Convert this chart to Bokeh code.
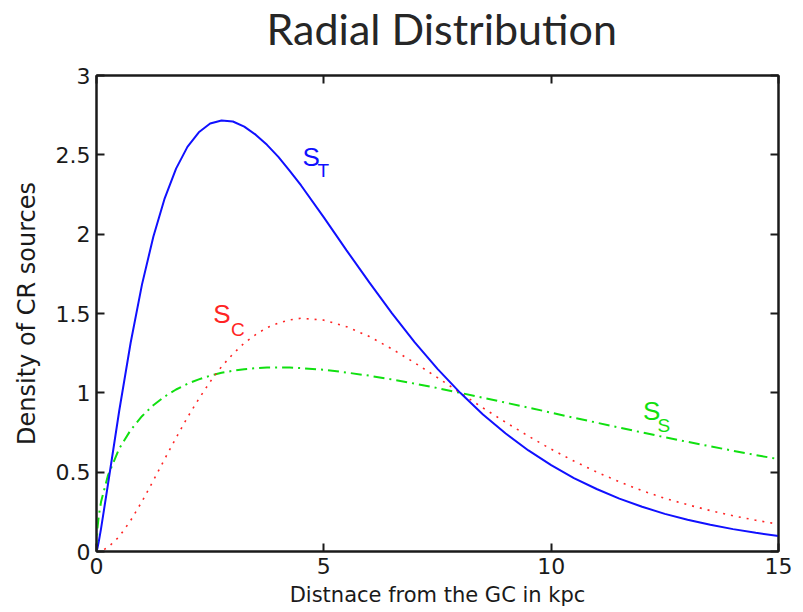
from bokeh.plotting import figure
from bokeh.models import FixedTicker, LinearAxis, Label
from bokeh.embed import file_html
from bokeh.resources import INLINE

# ---- data ----
distance_kpc = [0, 0.02, 0.05, 0.1, 0.25, 0.5, 0.75, 1, 1.25, 1.5,
                1.75, 2, 2.25, 2.5, 2.75, 3, 3.25, 3.5, 3.75, 4,
                4.25, 4.5, 5, 5.5, 6, 6.5, 7, 7.5, 8, 8.5,
                9, 9.5, 10, 10.5, 11, 11.5, 12, 12.5, 13, 13.5, 14, 14.5, 15]
density_st = [0, 0.020, 0.062, 0.144, 0.419, 0.887, 1.314, 1.682, 1.984, 2.226,
              2.413, 2.550, 2.642, 2.697, 2.716, 2.710, 2.678, 2.627, 2.563, 2.487,
              2.399, 2.307, 2.106, 1.898, 1.696, 1.501, 1.318, 1.151, 1.0, 0.864,
              0.744, 0.637, 0.544, 0.463, 0.394, 0.333, 0.282, 0.237, 0.200, 0.168,
              0.141, 0.118, 0.098]
density_sc = [0, 0.0, 0.001, 0.004, 0.025, 0.094, 0.195, 0.315, 0.447, 0.583,
              0.716, 0.845, 0.962, 1.070, 1.165, 1.245, 1.314, 1.367, 1.411, 1.440,
              1.460, 1.470, 1.458, 1.417, 1.355, 1.276, 1.189, 1.096, 1.0, 0.905,
              0.814, 0.727, 0.645, 0.570, 0.501, 0.439, 0.383, 0.335, 0.295, 0.258,
              0.225, 0.197, 0.172]
density_ss = [0, 0.145, 0.225, 0.313, 0.478, 0.649, 0.765, 0.853, 0.922, 0.977,
              1.021, 1.057, 1.085, 1.108, 1.126, 1.139, 1.149, 1.155, 1.159, 1.160,
              1.159, 1.156, 1.145, 1.128, 1.108, 1.084, 1.058, 1.030, 1.0, 0.969,
              0.938, 0.907, 0.875, 0.843, 0.812, 0.781, 0.750, 0.720, 0.691, 0.663,
              0.635, 0.608, 0.582]

x_ticks = [0, 5, 10, 15]
x_tick_labels = ["0", "5", "10", "15"]
y_ticks = [0, 0.5, 1, 1.5, 2, 2.5, 3]
y_tick_labels = ["0", "0.5", "1", "1.5", "2", "2.5", "3"]

title_text = "Radial Distribution"
x_label = "Distnace from the GC in kpc"
y_label = "Density of CR sources"

series_main = ["S", "S", "S"]
series_sub = ["T", "C", "S"]

# ---- styling ----
AX = "#1a1a1a"
BLUE = "#1010ff"
RED = "#ff2424"
GREEN = "#10e010"
TICK_FONT = "DejaVu Sans"

p = figure(width=803, height=612, x_range=(0, 15), y_range=(0, 3),
           output_backend="svg", toolbar_location=None,
           min_border_left=96, min_border_right=25,
           min_border_top=75, min_border_bottom=61)
p.background_fill_color = "white"
p.border_fill_color = "white"
p.xgrid.visible = False
p.ygrid.visible = False
p.outline_line_color = AX
p.outline_line_width = 2

p.title.text = title_text
p.title.text_font = "Lato"
p.title.text_font_size = "43px"
p.title.text_font_style = "normal"
p.title.text_color = "#262626"
p.title.align = "left"
p.title.offset = 170
p.title.standoff = 0


def style_axis(ax, ticks, labels, show_labels=True):
    ax.ticker = FixedTicker(ticks=ticks)
    ax.major_tick_in = 8
    ax.major_tick_out = 0
    ax.minor_tick_line_color = None
    ax.major_tick_line_width = 2
    ax.major_tick_line_color = AX
    ax.axis_line_width = 2
    ax.axis_line_color = AX
    ax.major_label_text_font = TICK_FONT
    ax.major_label_text_color = AX
    if show_labels:
        ax.major_label_overrides = {t: l for t, l in zip(ticks, labels)}
        ax.major_label_text_font_size = "22px"
        ax.major_label_standoff = 6
    else:
        ax.major_label_overrides = {t: "" for t in ticks}
        ax.major_label_text_font_size = "1px"
        ax.major_label_standoff = 0


xa = p.xaxis[0]
style_axis(xa, x_ticks, x_tick_labels)
xa.axis_label = x_label
xa.axis_label_text_font = TICK_FONT
xa.axis_label_text_font_size = "21px"
xa.axis_label_text_font_style = "normal"
xa.axis_label_text_color = AX
xa.axis_label_standoff = 6

ya = p.yaxis[0]
style_axis(ya, y_ticks, y_tick_labels)
ya.axis_label = y_label
ya.axis_label_text_font = TICK_FONT
ya.axis_label_text_font_size = "24px"
ya.axis_label_text_font_style = "normal"
ya.axis_label_text_color = AX
ya.axis_label_standoff = 12

top_axis = LinearAxis()
style_axis(top_axis, x_ticks, x_tick_labels, show_labels=False)
p.add_layout(top_axis, "above")

# spacer between the frame and the title (draws nothing)
spacer_axis = LinearAxis()
style_axis(spacer_axis, x_ticks, x_tick_labels, show_labels=False)
spacer_axis.major_tick_in = 0
spacer_axis.major_tick_out = 22
spacer_axis.major_tick_line_color = None
spacer_axis.axis_line_color = None
p.add_layout(spacer_axis, "above")

right_axis = LinearAxis()
style_axis(right_axis, y_ticks, y_tick_labels, show_labels=False)
p.add_layout(right_axis, "right")

# ---- curves ----
p.line(distance_kpc, density_ss, line_color=GREEN, line_width=2, line_dash="11 5 2 5")
p.line(distance_kpc, density_sc, line_color=RED, line_width=1.6, line_dash="2 6")
p.line(distance_kpc, density_st, line_color=BLUE, line_width=2)

# ---- curve labels ----
label_colors = [BLUE, RED, GREEN]
main_pos = [(4.53, 2.484), (2.57, 1.497), (12.02, 0.887)]
sub_pos = [(4.86, 2.40), (2.96, 1.398), (12.34, 0.793)]
for m, s, c, mp, sp in zip(series_main, series_sub, label_colors, main_pos, sub_pos):
    p.add_layout(Label(x=mp[0], y=mp[1], text=m, text_color=c,
                       text_font="Liberation Sans", text_font_size="26px",
                       text_baseline="alphabetic", text_align="left"))
    p.add_layout(Label(x=sp[0], y=sp[1], text=s, text_color=c,
                       text_font="Liberation Sans", text_font_size="19px",
                       text_baseline="alphabetic", text_align="left"))

open("out.html", "w").write(file_html(p, INLINE))
